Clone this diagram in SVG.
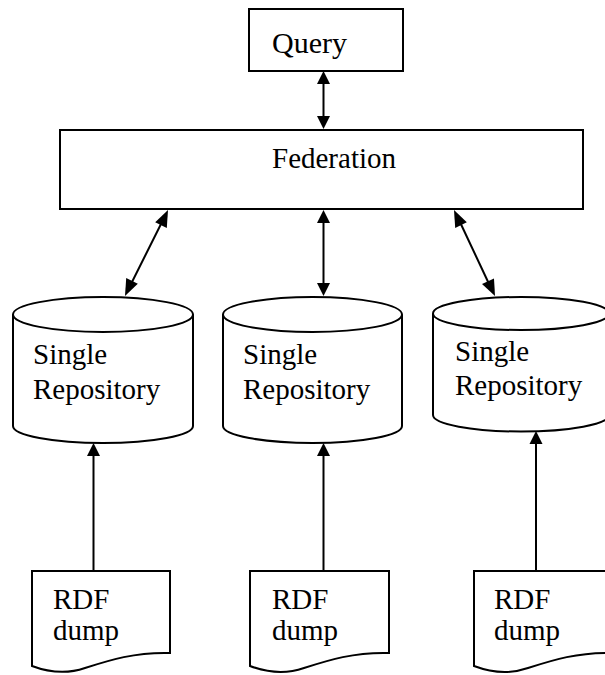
<svg xmlns="http://www.w3.org/2000/svg" width="605" height="675" viewBox="0 0 605 675">
<style>
.box{fill:#fff;stroke:#000;stroke-width:2}
.ln{fill:none;stroke:#000;stroke-width:2}
.ah{fill:#000;stroke:none}
text{font-family:"Liberation Serif","Times New Roman",serif;font-size:29px;fill:#000}
</style>
<rect width="605" height="675" fill="#fff"/>
<g id="query">
<rect class="box" x="249" y="9" width="154" height="62"/>
<text x="272" y="53" font-family="Liberation Serif, serif" style="font-size:30px">Query</text>
</g>
<g id="federation">
<rect class="box" x="60" y="130" width="523" height="79"/>
<text x="272" y="168" font-family="Liberation Serif, serif">Federation</text>
</g>
<g id="repo1" font-family="Liberation Serif, serif">
<path class="box" d="M13,314.5 V426 A90,17 0 0 0 193,426 V314.5"/>
<ellipse class="box" cx="103" cy="314.5" rx="90" ry="17.5"/>
<text x="33" y="364">Single</text>
<text x="33" y="399">Repository</text>
</g>
<g id="repo2" font-family="Liberation Serif, serif">
<path class="box" d="M223,314.5 V426 A89.5,17 0 0 0 402,426 V314.5"/>
<ellipse class="box" cx="312.5" cy="314.5" rx="89.5" ry="17.5"/>
<text x="243" y="364">Single</text>
<text x="243" y="399">Repository</text>
</g>
<g id="repo3" font-family="Liberation Serif, serif">
<path class="box" d="M433,313.5 V415 A88,16.5 0 0 0 609,415 V313.5"/>
<ellipse class="box" cx="521" cy="313.5" rx="88" ry="16.5"/>
<text x="455" y="361">Single</text>
<text x="455" y="395">Repository</text>
</g>
<g id="dump1" font-family="Liberation Serif, serif">
<path class="box" d="M32,571 H170 V653 C135,652 110,660 85,668 C65,675 48,672 32,666 Z"/>
<text x="53" y="609">RDF</text>
<text x="53" y="640">dump</text>
</g>
<g id="dump2" font-family="Liberation Serif, serif">
<path class="box" d="M250,571 H389 V653 C354,652 329,660 304,668 C284,675 266,672 250,666 Z"/>
<text x="272" y="609">RDF</text>
<text x="272" y="640">dump</text>
</g>
<g id="dump3" font-family="Liberation Serif, serif">
<path class="box" d="M474,571 H613 V653 C578,652 553,660 528,668 C508,675 490,672 474,666 Z"/>
<text x="494" y="609">RDF</text>
<text x="494" y="640">dump</text>
</g>
<g id="connectors">
<line class="ln" x1="323.5" y1="80" x2="323.5" y2="120"/>
<polygon class="ah" points="323.5,71 317,84 330,84"/>
<polygon class="ah" points="323.5,129 317,116 330,116"/>
<line class="ln" x1="163" y1="220" x2="130" y2="286"/>
<polygon class="ah" points="168,210 155.2,222.2 166.8,228"/>
<polygon class="ah" points="125,296 126.2,278 137.8,283.8"/>
<line class="ln" x1="323.5" y1="220" x2="323.5" y2="286"/>
<polygon class="ah" points="323.5,210 317,223 330,223"/>
<polygon class="ah" points="323.5,296 317,283 330,283"/>
<line class="ln" x1="459" y1="220" x2="490" y2="286"/>
<polygon class="ah" points="454,210 455.2,228 466.8,222.2"/>
<polygon class="ah" points="495,296 482,284 494,278.5"/>
<line class="ln" x1="93.5" y1="571" x2="93.5" y2="452"/>
<polygon class="ah" points="93.5,443 87,456 100,456"/>
<line class="ln" x1="323.5" y1="571" x2="323.5" y2="452"/>
<polygon class="ah" points="323.5,443 317,456 330,456"/>
<line class="ln" x1="536" y1="571" x2="536" y2="440"/>
<polygon class="ah" points="536,431 529.5,444 542.5,444"/>
</g>
</svg>
